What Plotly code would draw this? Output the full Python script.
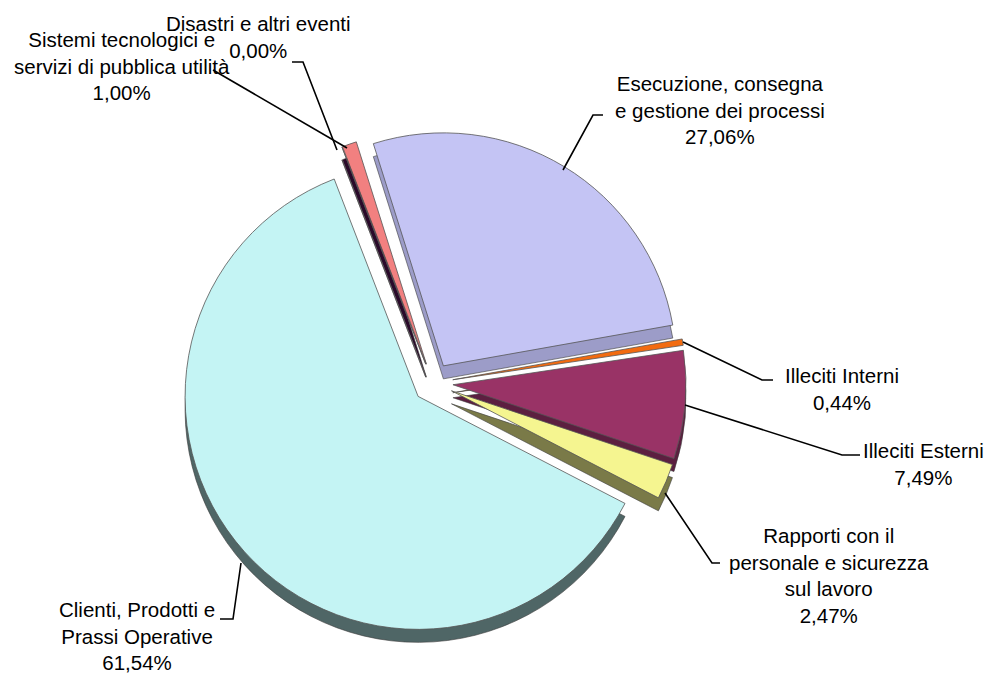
import plotly.graph_objects as go

# Loss-event categories (clockwise from the top of the pie)
categories = [
    "Esecuzione, consegna<br>e gestione dei processi",
    "Illeciti Interni",
    "Illeciti Esterni",
    "Rapporti con il<br>personale e sicurezza<br>sul lavoro",
    "Clienti, Prodotti e<br>Prassi Operative",
    "Disastri e altri eventi",
    "Sistemi tecnologici e<br>servizi di pubblica utilità",
]
shares = [27.06, 0.44, 7.49, 2.47, 61.54, 0.00, 1.00]

top_colors = ["#C4C4F4", "#F26B10", "#993366", "#F5F590", "#C4F4F4", "#1E1E6E", "#F28080"]
side_colors = ["#9C9CC8", "#A84A08", "#5C1F40", "#7A7A48", "#4F6666", "#10103A", "#2A0A2A"]

W, H = 990, 677
CX, CY = 433, 383          # pie centre (px)
R = 233                    # pie radius (px)
PULL = 0.086               # explosion of every slice
DEPTH = 13                 # thickness of the 3D rim (px)
ROT = -17.5


def px(x):
    return x / W


def py(y):
    return 1 - y / H


half = R * (1 + PULL)


def domain(dy=0):
    return dict(x=[px(CX - half), px(CX + half)],
                y=[py(CY + dy + half), py(CY + dy - half)])


fig = go.Figure()

# side faces: a darker copy of the pie, shifted down
fig.add_trace(go.Pie(
    labels=categories, values=shares, sort=False, direction="clockwise",
    rotation=ROT, pull=[PULL] * len(shares), domain=domain(DEPTH),
    marker=dict(colors=side_colors, line=dict(color="#3A3A3A", width=0.6)),
    textinfo="none", hoverinfo="skip", showlegend=False,
))

# top faces
fig.add_trace(go.Pie(
    labels=categories, values=shares, sort=False, direction="clockwise",
    rotation=ROT, pull=[PULL] * len(shares), domain=domain(0),
    marker=dict(colors=top_colors, line=dict(color="#555555", width=0.8)),
    textinfo="none", hovertemplate="%{label}: %{value:.2f}%<extra></extra>",
    showlegend=False,
))

# label block centres and leader polylines (px)
label_pos = [(720, 110), (842, 389), (923, 464), (829, 575), (137, 636), (258, 37), (122, 66)]
leaders = [
    [(563, 170), (593, 115), (603, 115)],
    [(683, 342), (762, 380), (773, 380)],
    [(685, 405), (842, 455), (860, 455)],
    [(665, 493), (712, 563), (720, 563)],
    [(241, 563), (233, 619), (220, 619)],
    [(337, 150), (303, 62), (292, 62)],
    [(347, 148), (213, 70)],
]


def pct(v):
    return f"{v:.2f}".replace(".", ",") + "%"


annotations = []
shapes = []
for name, v, (lx, ly), pts in zip(categories, shares, label_pos, leaders):
    annotations.append(dict(
        x=px(lx), y=py(ly), xref="paper", yref="paper",
        text=f"{name}<br>{pct(v)}", showarrow=False,
        xanchor="center", yanchor="middle", align="center",
        font=dict(family="Liberation Sans, Arial, sans-serif", size=20.5, color="#000000"),
    ))
    path = "M " + " L ".join(f"{px(x):.5f},{py(y):.5f}" for x, y in pts)
    shapes.append(dict(type="path", xref="paper", yref="paper", path=path,
                       line=dict(color="#000000", width=1.6)))

fig.update_layout(
    width=W, height=H, autosize=False,
    margin=dict(l=0, r=0, t=0, b=0),
    paper_bgcolor="#FFFFFF", plot_bgcolor="#FFFFFF",
    annotations=annotations, shapes=shapes,
)

fig.write_html("out.html")
